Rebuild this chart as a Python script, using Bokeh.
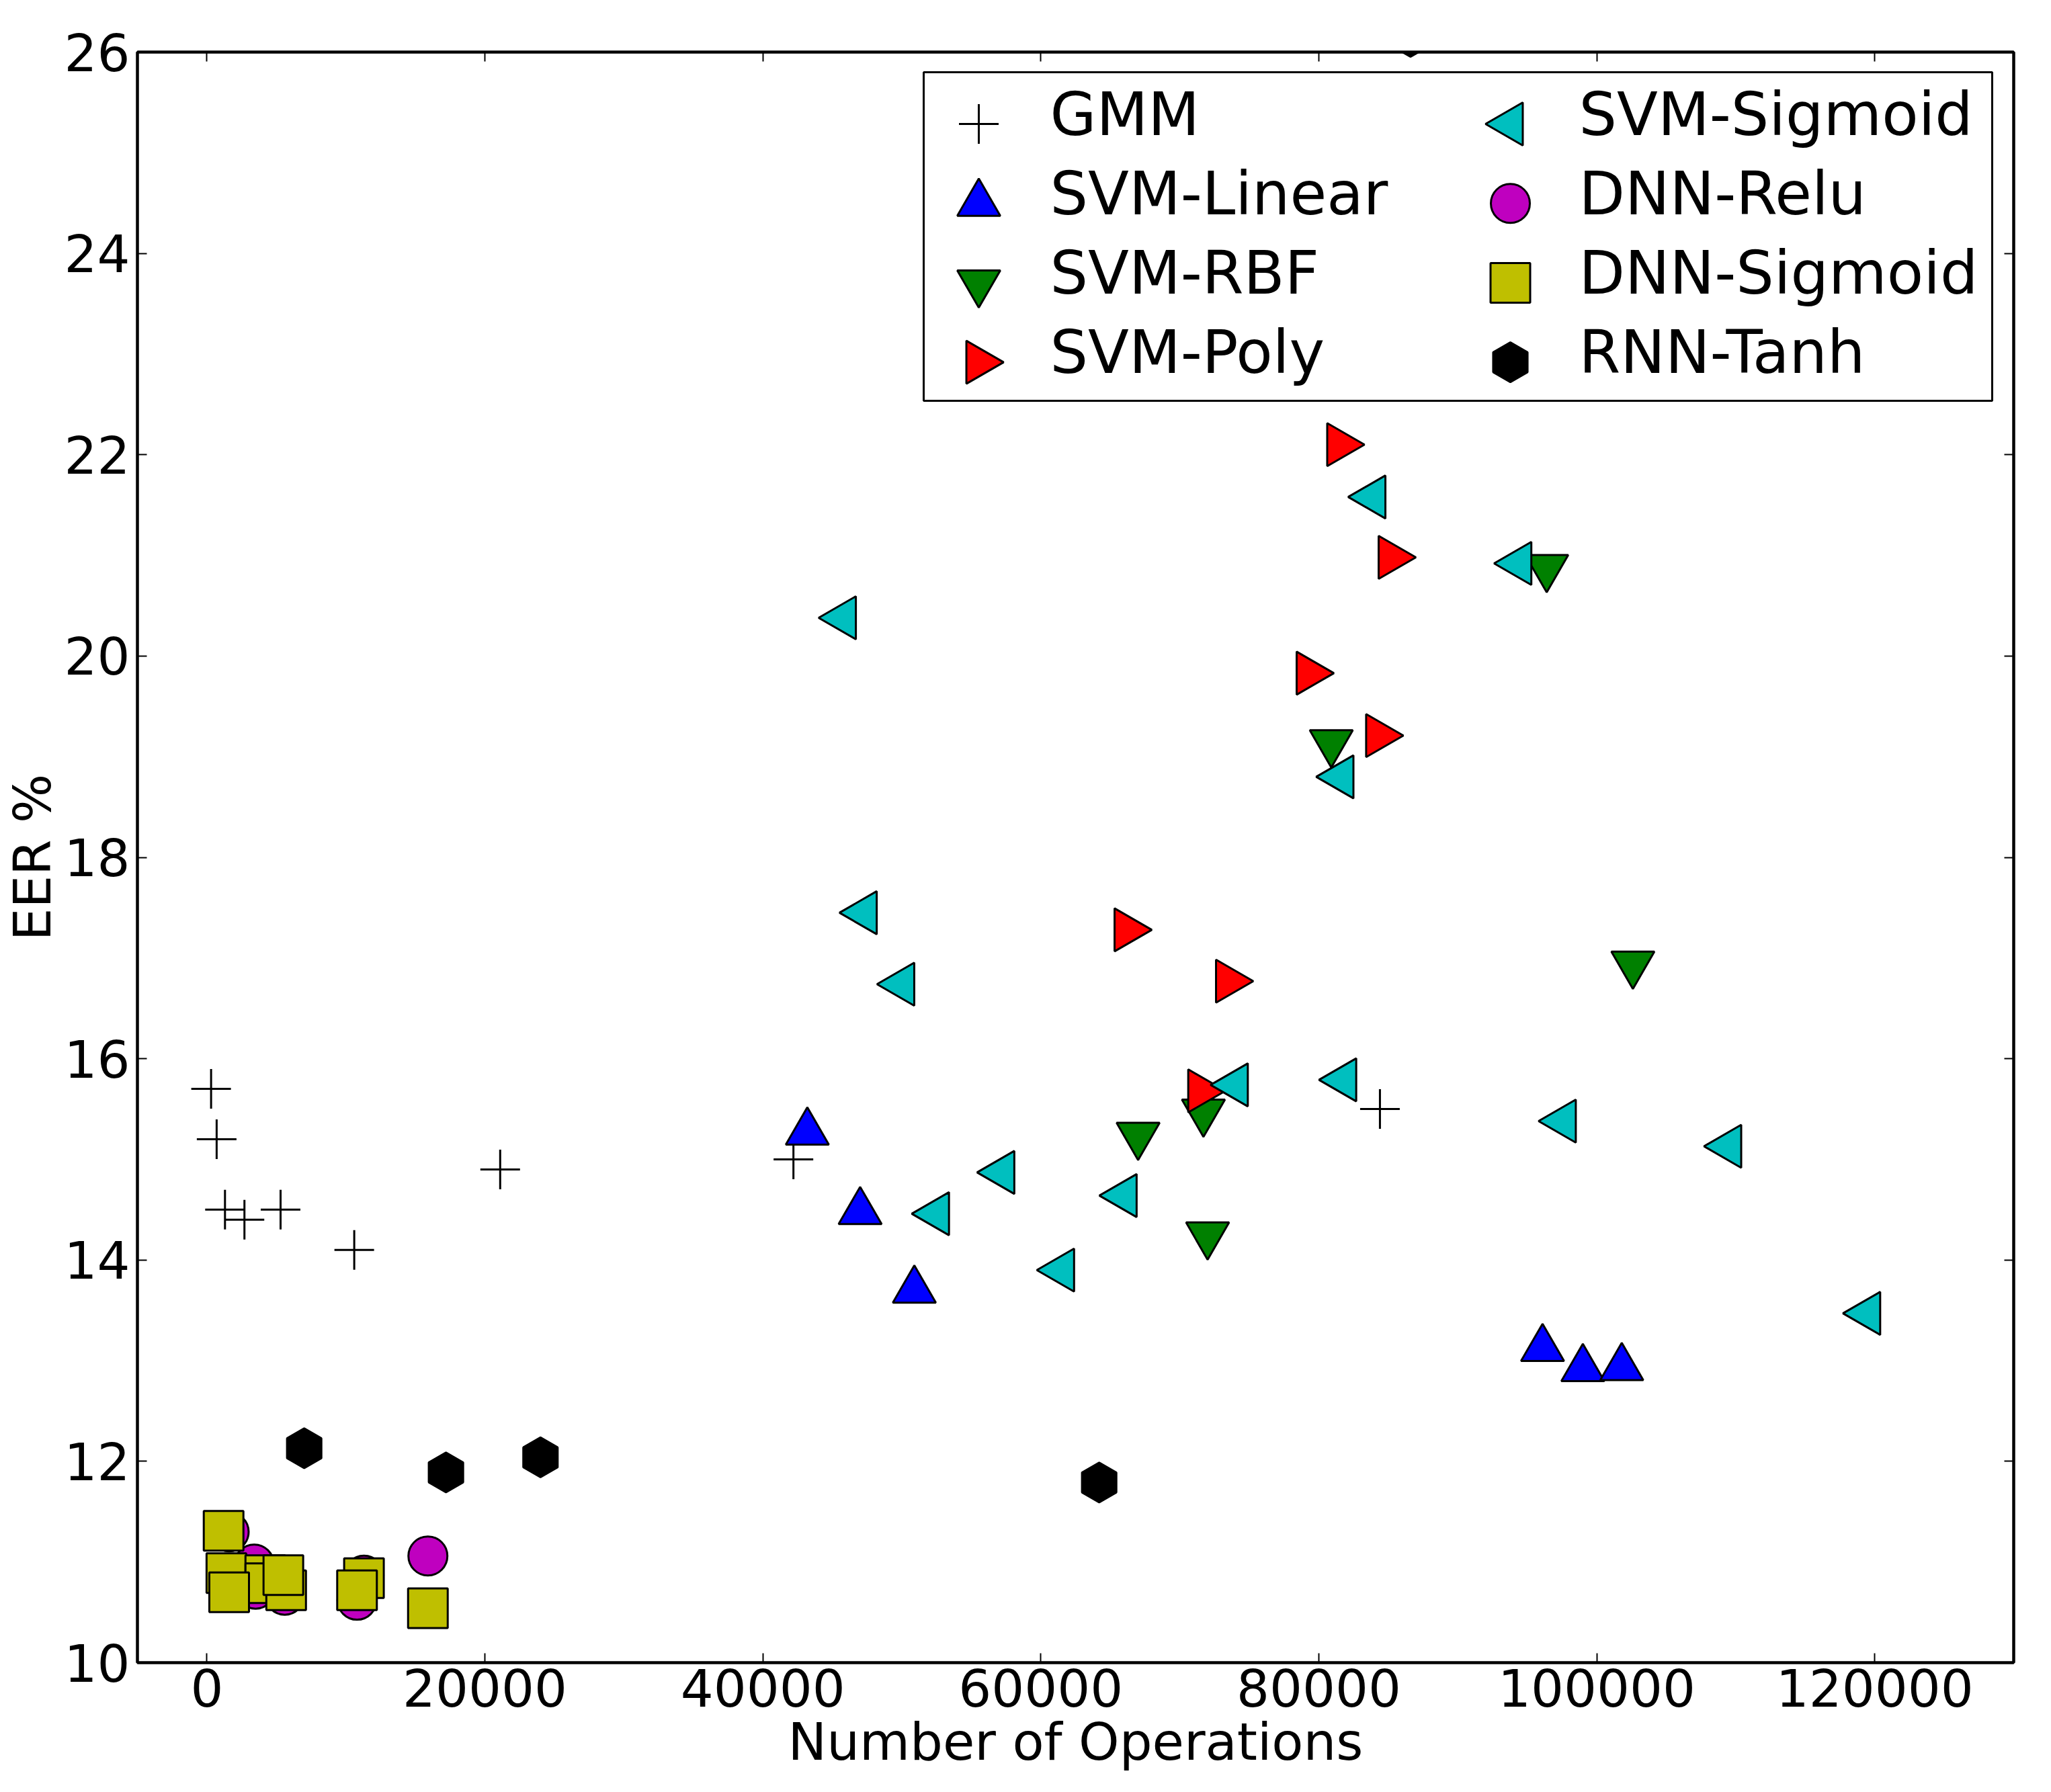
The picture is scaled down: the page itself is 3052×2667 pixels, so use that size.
import math
from bokeh.plotting import figure
from bokeh.models import Range1d, LinearAxis, FixedTicker, BasicTickFormatter, CustomJSTickFormatter
from bokeh.core.properties import value
from bokeh.embed import file_html
from bokeh.resources import INLINE

# ---------------- data ----------------
x_ticks = [0, 20000, 40000, 60000, 80000, 100000, 120000]
y_ticks = [10, 12, 14, 16, 18, 20, 22, 24, 26]

gmm_x = [300, 700, 1300, 2700, 5300, 10600, 21100, 42200, 84400]
gmm_y = [15.70, 15.20, 14.50, 14.40, 14.50, 14.10, 14.90, 15.00, 15.50]

svm_linear_x = [43200, 47000, 50900, 96100, 99000, 101800]
svm_linear_y = [15.27, 14.48, 13.70, 13.12, 12.92, 12.93]

svm_rbf_x = [80900, 96400, 102600, 67000, 71700, 72000]
svm_rbf_y = [19.14, 20.88, 16.94, 15.24, 15.47, 14.25]

svm_poly_x = [81500, 85200, 79300, 84300, 66200, 73500, 71500]
svm_poly_y = [22.10, 20.98, 19.83, 19.21, 17.28, 16.77, 15.68]

svm_sigmoid_x = [83900, 45800, 81600, 47300, 50000, 74000, 81800, 57200,
                 52500, 66000, 61500, 94400, 97600, 109500, 119500]
svm_sigmoid_y = [21.58, 20.38, 18.80, 17.45, 16.74, 15.74, 15.79, 14.87,
                 14.46, 14.64, 13.90, 20.92, 15.38, 15.13, 13.47]

dnn_relu_x = [1600, 3400, 3500, 5600, 11300, 10800, 15900]
dnn_relu_y = [11.30, 10.98, 10.73, 10.67, 10.87, 10.62, 11.06]

dnn_sigmoid_x = [1400, 4200, 4200, 5700, 1200, 1600, 5500, 11300, 10800, 15900]
dnn_sigmoid_y = [10.89, 10.87, 10.79, 10.72, 11.31, 10.70, 10.87, 10.84, 10.72, 10.54]

rnn_tanh_x = [7000, 17200, 24000, 64200, 86600]
rnn_tanh_y = [12.13, 11.89, 12.04, 11.79, 26.15]

series_names = ["GMM", "SVM-Linear", "SVM-RBF", "SVM-Poly",
                "SVM-Sigmoid", "DNN-Relu", "DNN-Sigmoid", "RNN-Tanh"]

# ---------------- styles ----------------
FONT = "DejaVu Sans"
TRI = 64
styles = [
    dict(marker="cross", size=59, angle=0.0, fill=None, line="black", lw=3),
    dict(marker="triangle", size=TRI, angle=0.0, fill="#0000ff", line="black", lw=3),
    dict(marker="inverted_triangle", size=TRI, angle=0.0, fill="#008000", line="black", lw=3),
    dict(marker="triangle", size=TRI, angle=-math.pi / 2, fill="#ff0000", line="black", lw=3),
    dict(marker="triangle", size=TRI, angle=math.pi / 2, fill="#00bfbf", line="black", lw=3),
    dict(marker="circle", size=58, angle=0.0, fill="#bf00bf", line="black", lw=3),
    dict(marker="square", size=59, angle=0.0, fill="#bfbf00", line="black", lw=3),
    dict(marker="hex", size=59, angle=math.pi / 2, fill="#000000", line="black", lw=3),
]
series = [(gmm_x, gmm_y), (svm_linear_x, svm_linear_y), (svm_rbf_x, svm_rbf_y),
          (svm_poly_x, svm_poly_y), (svm_sigmoid_x, svm_sigmoid_y),
          (dnn_relu_x, dnn_relu_y), (dnn_sigmoid_x, dnn_sigmoid_y),
          (rnn_tanh_x, rnn_tanh_y)]

FW, FH = 2792, 2397  # frame size in px

p = figure(frame_width=FW, frame_height=FH, output_backend="svg", toolbar_location=None,
           x_range=Range1d(-5000, 130000), y_range=Range1d(10, 26),
           min_border_left=197, min_border_right=47, min_border_top=77,
           min_border_bottom=175,
           x_axis_label="Number of Operations", y_axis_label="EER %")
p.extra_x_ranges = {"px": Range1d(0, FW)}
p.extra_y_ranges = {"px": Range1d(0, FH)}
p.grid.visible = False
p.background_fill_color = "white"
p.border_fill_color = "white"
p.outline_line_color = "black"
p.outline_line_width = 4


def style_axis(ax):
    ax.axis_line_width = 4
    ax.axis_line_color = "black"
    ax.major_tick_in = 14
    ax.major_tick_out = 0
    ax.major_tick_line_width = 2
    ax.major_tick_line_color = "black"
    ax.minor_tick_line_color = None
    ax.major_label_text_font = FONT
    ax.major_label_text_font_size = "77px"
    ax.major_label_text_color = "black"
    ax.axis_label_text_font = FONT
    ax.axis_label_text_font_size = "77px"
    ax.axis_label_text_font_style = "normal"
    ax.axis_label_text_color = "black"


for ax in p.xaxis:
    style_axis(ax)
    ax.ticker = FixedTicker(ticks=x_ticks)
    ax.formatter = BasicTickFormatter(use_scientific=False)
    ax.major_label_standoff = 9
    ax.axis_label_standoff = 5
for ax in p.yaxis:
    style_axis(ax)
    ax.ticker = FixedTicker(ticks=y_ticks)
    ax.major_label_standoff = 11
    ax.axis_label_standoff = 0

top = LinearAxis(ticker=FixedTicker(ticks=x_ticks),
                 formatter=CustomJSTickFormatter(code="return ''"))
right = LinearAxis(ticker=FixedTicker(ticks=y_ticks),
                   formatter=CustomJSTickFormatter(code="return ''"))
for ax in (top, right):
    style_axis(ax)
    ax.major_label_text_font_size = "0px"
    ax.major_label_standoff = 0
p.add_layout(top, "above")
p.add_layout(right, "right")

# ---------------- data markers ----------------
for (xs, ys), st in zip(series, styles):
    p.scatter(x=xs, y=ys, marker=st["marker"], size=st["size"], angle=st["angle"],
              fill_color=st["fill"], line_color=st["line"], line_width=st["lw"])

# ---------------- legend (drawn in frame pixel space) ----------------
LG_L, LG_R, LG_B, LG_T = 1170, 2760, 1878, 2367
p.quad(left=[LG_L], right=[LG_R], bottom=[LG_B], top=[LG_T],
       x_range_name="px", y_range_name="px",
       fill_color="white", line_color="black", line_width=3)

ROW0, ROW_STEP = 2290, 118.2
MX0, MX_STEP = 1252, 791
TX0, TX_STEP = 1358, 787
for i, (name, st) in enumerate(zip(series_names, styles)):
    col, row = divmod(i, 4)
    my = ROW0 - row * ROW_STEP
    p.scatter(x=[MX0 + col * MX_STEP], y=[my], marker=st["marker"], size=st["size"],
              angle=st["angle"], fill_color=st["fill"], line_color=st["line"],
              line_width=st["lw"], x_range_name="px", y_range_name="px")
    p.text(x=[TX0 + col * TX_STEP], y=[my + 15], text=[name],
           text_font=value(FONT), text_font_size=value("89px"),
           text_align="left", text_baseline="alphabetic", text_color="black",
           x_range_name="px", y_range_name="px")

open("out.html", "w").write(file_html(p, INLINE))
